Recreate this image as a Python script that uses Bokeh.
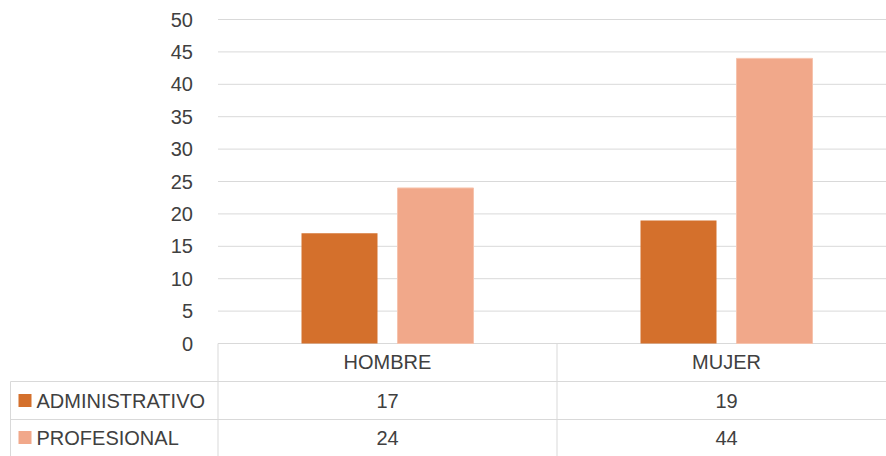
from bokeh.plotting import figure
from bokeh.models import Range1d, FixedTicker
from bokeh.core.properties import value
from bokeh.embed import file_html
from bokeh.resources import INLINE

# ---- data ----
categories = ["HOMBRE", "MUJER"]
series = ["ADMINISTRATIVO", "PROFESIONAL"]
administrativo = [17, 19]
profesional = [24, 44]
y_ticks = [0, 5, 10, 15, 20, 25, 30, 35, 40, 45, 50]
colors = ["#D4702C", "#F1A88A"]

FONT = "Liberation Sans"
FS = "20px"
TXT = "#404040"
GRID = "#D9D9D9"

# ---- geometry (pixels) ----
W, H = 886, 456
CHART_LEFT = 217.5      # px from frame left to the first category's left edge
CAT_PX = 339.0          # px per category
PPU = 324.0 / 50        # px per value unit
ZERO_FROM_TOP = 343.0   # px from frame top to the value 0
UX = 1.0 / CAT_PX       # x data units per px
UY = 1.0 / PPU          # y data units per px

xstart = -CHART_LEFT * UX
xend = (W - CHART_LEFT) * UX
yend = 50 + (ZERO_FROM_TOP - 324.0) * UY
ystart = -(H - ZERO_FROM_TOP) * UY

p = figure(width=W, height=H, x_range=Range1d(xstart, xend), y_range=Range1d(ystart, yend),
           output_backend="svg", toolbar_location=None,
           min_border=0, min_border_left=0, min_border_right=0, min_border_top=0, min_border_bottom=0)
p.outline_line_color = None
p.background_fill_color = "white"
p.xaxis.visible = False
p.grid.visible = False

# y axis placed at the chart's left edge
yt = FixedTicker(ticks=y_ticks)
p.yaxis.ticker = yt
p.yaxis.fixed_location = 0
p.yaxis.axis_line_color = None
p.yaxis.major_tick_line_color = None
p.yaxis.minor_tick_line_color = None
p.yaxis.major_label_standoff = 19
p.yaxis.major_label_text_font = FONT
p.yaxis.major_label_text_font_size = FS
p.yaxis.major_label_text_color = TXT

# horizontal gridlines over the chart area
n = len(categories)
p.segment(x0=[0] * len(y_ticks), y0=y_ticks, x1=[n] * len(y_ticks), y1=y_ticks,
          line_color=GRID, line_width=1)

# bars
centers = [i + 0.5 for i in range(n)]
bw = 76 * UX
off = 48 * UX
p.vbar(x=[c - off for c in centers], top=administrativo, width=bw, bottom=0,
       fill_color=colors[0], line_color=None)
p.vbar(x=[c + off for c in centers], top=profesional, width=bw, bottom=0,
       fill_color=colors[1], line_color="#F6C3AD", line_width=1)

# ---- data table below the chart ----
cat_y = -18 * UY
line1 = -38 * UY
line2 = -76 * UY
row_y = [-57 * UY, -94 * UY]
x_tab_left = xstart + 10 * UX

# vertical lines
p.segment(x0=list(range(n)), y0=[0] * n, x1=list(range(n)), y1=[ystart] * n,
          line_color=GRID, line_width=1)
p.segment(x0=[x_tab_left], y0=[line1], x1=[x_tab_left], y1=[ystart], line_color=GRID, line_width=1)
# horizontal lines
p.segment(x0=[x_tab_left] * 2, y0=[line1, line2], x1=[n] * 2, y1=[line1, line2],
          line_color=GRID, line_width=1)

# category labels
p.text(x=centers, y=[cat_y] * n, text=categories, text_font=value(FONT), text_font_size=FS,
       text_color=TXT, text_align="center", text_baseline="middle")

# legend keys and series names
p.scatter(x=[xstart + 24.5 * UX] * 2, y=row_y, marker="square", size=13,
          fill_color=colors, line_color=None)
p.text(x=[xstart + 36 * UX] * 2, y=row_y, text=series, text_font=value(FONT),
       text_font_size=FS, text_color=TXT, text_align="left", text_baseline="middle")

# values
vals = [administrativo, profesional]
tx, ty, tt = [], [], []
for r, vs in enumerate(vals):
    for c, v in zip(centers, vs):
        tx.append(c)
        ty.append(row_y[r])
        tt.append(str(v))
p.text(x=tx, y=ty, text=tt, text_font=value(FONT), text_font_size=FS, text_color=TXT,
       text_align="center", text_baseline="middle")

open("out.html", "w").write(file_html(p, INLINE))
